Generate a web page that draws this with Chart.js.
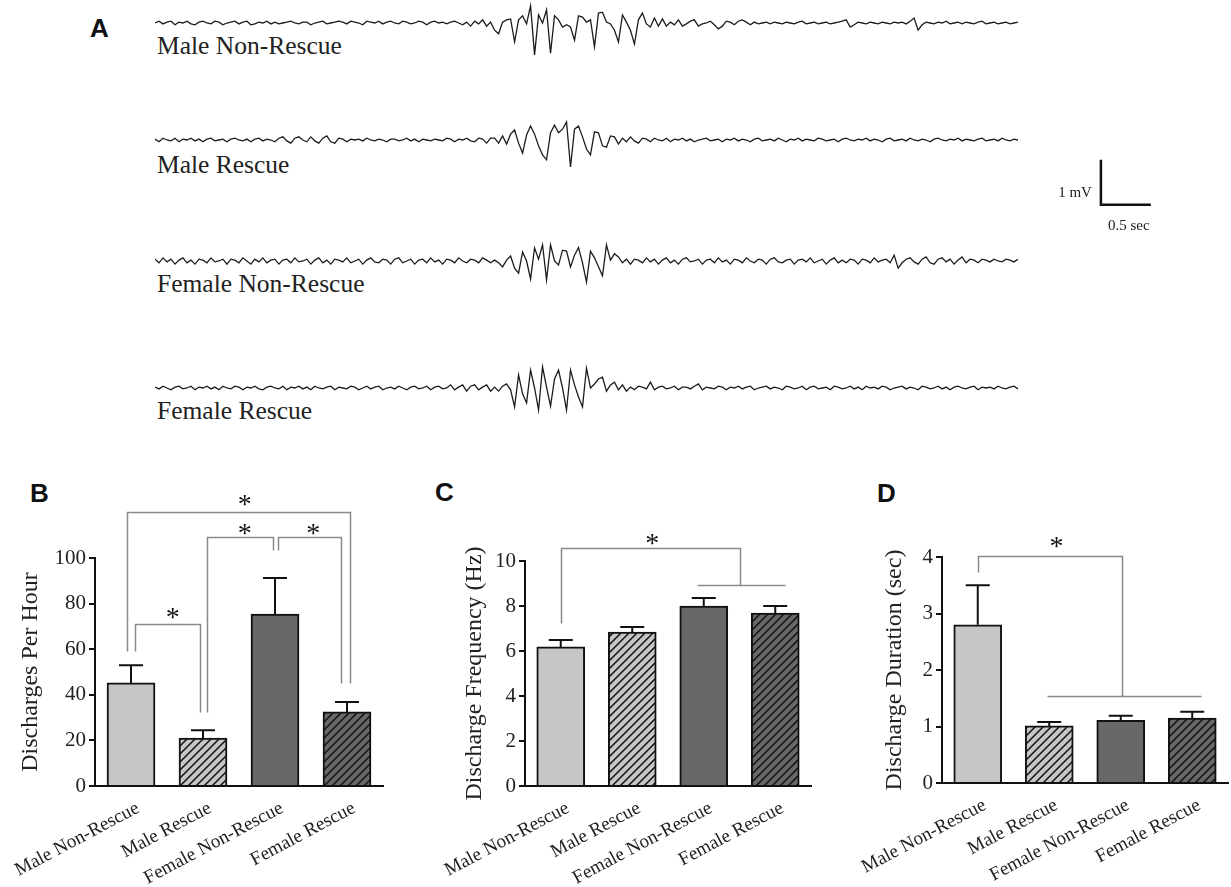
<!DOCTYPE html>
<html>
<head>
<meta charset="utf-8">
<script src="https://cdn.jsdelivr.net/npm/chart.js@4.4.1/dist/chart.umd.min.js"></script>
<style>
  body { margin: 0; background: #fff; width: 1231px; height: 887px; overflow: hidden; position: relative; }
  canvas { position: absolute; }
  .lbl { position: absolute; font-family: "Liberation Serif", serif; font-size: 25.5px; line-height: 1; color: #222; white-space: nowrap; }
  .panel { position: absolute; font-family: "Liberation Sans", Arial, sans-serif; font-weight: bold; font-size: 26px; line-height: 1; color: #111; }
</style>
</head>
<body>
<div class="panel" style="left:90px;top:15px">A</div>
<div class="panel" style="left:30px;top:480px">B</div>
<div class="panel" style="left:435px;top:479px">C</div>
<div class="panel" style="left:877px;top:480px">D</div>

<div class="lbl" style="left:157px;top:33px">Male Non-Rescue</div>
<div class="lbl" style="left:157px;top:152px">Male Rescue</div>
<div class="lbl" style="left:157px;top:271px">Female Non-Rescue</div>
<div class="lbl" style="left:157px;top:398px">Female Rescue</div>

<canvas id="tr1" width="1231" height="144" style="left:0;top:-31px"></canvas>
<canvas id="tr2" width="1231" height="144" style="left:0;top:86px"></canvas>
<canvas id="tr3" width="1231" height="144" style="left:0;top:207px"></canvas>
<canvas id="tr4" width="1231" height="144" style="left:0;top:334px"></canvas>

<canvas id="chartB" width="400" height="417" style="left:0;top:470px"></canvas>
<canvas id="chartC" width="420" height="417" style="left:400px;top:470px"></canvas>
<canvas id="chartD" width="411" height="417" style="left:820px;top:470px"></canvas>

<script>
// EEG traces (mV), one sample every 0.04 s
const SAMPLE_DT = 0.04

const maleNonRescueTrace = [
  0, 0.04, -0.02, 0.02, 0.04, -0.04, 0.02, 0, 0.04, -0.02,
  -0.04, 0.02, 0.04, 0, -0.02, 0.04, 0.02, -0.04, 0, 0.02,
  0.04, -0.02, 0.02, 0.04, -0.04, -0.02, 0.02, 0, 0.04, -0.02,
  0.02, -0.02, 0, 0.02, 0.04, 0, -0.02, 0.02, 0.02, -0.04,
  0, 0.02, 0.04, -0.02, 0, 0.02, 0.04, 0.02, -0.02, 0.04,
  0.02, 0, -0.04, 0.04, 0.02, 0, 0.04, -0.02, 0.02, 0.04,
  0, -0.02, 0.04, 0.02, -0.02, 0, 0.04, 0.02, -0.04, 0.02,
  0.04, 0, 0.02, -0.02, 0.02, 0.04, 0, -0.04, 0.02,
  -0.07, 0.04, -0.02, 0.07, -0.07, 0.02, -0.16, -0.24, 0.02, 0.07,
  0.09, -0.42, 0.07, 0.16, -0.02, 0.38, -0.71, 0.18, 0, 0.29,
  -0.67, 0.16, 0.07, -0.09, -0.04, -0.09, -0.38, 0.16, 0.13, 0.02,
  0.07, -0.53, 0.22, 0.24, 0.02, -0.02, -0.16, -0.42, 0.18, 0.02,
  -0.16, -0.47, 0.07, 0.22, -0.02, -0.09, 0.11, -0.07, 0.09, -0.07,
  0.02, -0.04, 0.07, -0.07, -0.02, 0.04, 0.07, -0.07, -0.02, 0,
  0.04, -0.04, -0.13, -0.07, 0.04, 0.02, -0.04, 0.04, 0.07, 0.02,
  -0.04,
  0.02, -0.02, 0, 0.02, -0.02, 0.02, 0, -0.02, 0.02, 0,
  -0.02, 0.02, 0.04, -0.02, 0, 0.02, -0.02, 0, 0.02, -0.02,
  0, 0.02, 0.04, 0.07, -0.09, -0.04, 0.02, 0, -0.02, 0.02,
  0, -0.02, 0.02, 0, -0.02, 0.02, 0, 0.02, -0.02, 0.04,
  0.11, -0.16, -0.04, 0.02, 0, -0.02, 0.02, 0, 0.04, -0.02,
  0, 0.02, -0.02, 0.02, 0, -0.02, 0.02, 0.04, -0.02, 0,
  0.02, -0.02, 0, 0.02, -0.02, 0, 0.02,
]

const maleRescueTrace = [
  0.02, -0.04, 0.04, 0, -0.02, 0.04, -0.04, 0.02, 0, 0.04,
  -0.02, 0.02, -0.04, 0.02, 0.04, -0.02, 0, 0.02, -0.04, 0.02,
  0.04, 0, -0.02, 0.02, -0.04, 0.02, 0.04, -0.02, 0.02, 0,
  -0.04, 0.04, 0.07, -0.02, -0.07, 0.04, 0.07, 0, -0.04, 0.07,
  -0.02, -0.07, 0.04, 0.09, -0.04, -0.07, 0.04, 0.02, -0.04, 0.02,
  0, 0.02, -0.02, 0.04, 0, -0.02, 0.02, 0, -0.04, 0.02,
  0.02, -0.02, 0, 0.04, -0.02, 0.02, -0.04, 0.02, 0, -0.02,
  0.02, 0, -0.02, 0.04, 0.02, -0.04, 0.02, 0, 0.04, -0.02,
  -0.04, 0.04, 0.02, -0.07, 0.04,
  0.04, -0.07, 0.09, -0.09, 0.13, 0.22, -0.07, -0.29, 0.11, 0.31,
  0.13, -0.13, -0.33, -0.44, 0.16, 0.33, 0.16, 0.24, 0.40, -0.6,
  0.24, 0.31, 0.07, -0.2, -0.33, 0.18, 0.16, -0.13, -0.16, 0.09,
  0.07, -0.09, 0.04,
  -0.04, 0.07, -0.02, -0.07, 0.04, 0.02, -0.04, 0.04, 0, -0.02,
  0.04, -0.04, 0.02, 0, 0.04, -0.02, 0.02, -0.04, 0, 0.02,
  0.04, -0.02, 0, 0.02, -0.04, 0.02, 0, 0.04, -0.02, 0.02,
  0, -0.04, 0.02, 0.04, -0.02, 0, 0.02, -0.02, 0.04, 0,
  -0.04, 0.02, 0, 0.04, -0.02, 0.02, 0, -0.02, 0.04, 0.02,
  -0.02, 0, 0.02, -0.04, 0.02, 0.04, 0, -0.02, 0.02, 0,
  0.04, -0.02, 0.02, 0, -0.04, 0.02, 0.04, -0.02, 0, 0.02,
  -0.02, 0.04, 0, -0.02, 0.02, 0, -0.04, 0.02, 0.04, 0,
  -0.02, 0.02, 0, 0.04, -0.02, 0.02, 0, -0.02, 0.02, 0.04,
  -0.02, 0, 0.02, -0.02, 0.04, 0, -0.02, 0.02, 0,
]

const femaleNonRescueTrace = [
  0.04, -0.04, 0.07, -0.02, 0.04, -0.07, 0.02, 0.07, -0.04, 0.02,
  -0.07, 0.04, 0.02, -0.04, 0.07, -0.02, 0, 0.04, -0.07, 0.04,
  0.02, -0.04, 0.07, 0, -0.07, 0.04, -0.02, 0.07, -0.04, 0.02,
  0.04, -0.07, 0.02, 0.04, -0.04, 0.07, -0.02, 0, 0.04, -0.07,
  0.02, 0.07, -0.04, 0.02, -0.07, 0.04, 0.02, -0.02, 0.07, -0.04,
  0, 0.04, -0.07, 0.02, 0.07, -0.02, -0.04, 0.04, 0.02, -0.07,
  0.04, 0.07, -0.04, 0, 0.04, -0.07, 0.02, 0.04, -0.04, 0.07,
  -0.02, 0.02, -0.07, 0.04, 0.02, -0.04, 0.07, 0, -0.04, 0.04,
  0.02, -0.04, 0.07,
  0.02, -0.04, 0.02, -0.04, -0.13, 0.02, 0.11, -0.16, -0.27, 0.2,
  0, -0.4, 0.29, 0.04, 0.36, -0.42, 0.36, 0, -0.09, 0.24,
  0.22, -0.13, 0.13, 0.3, -0.04, -0.47, 0.22, 0.07, -0.13, -0.33,
  0.36, 0.02, 0.16, 0.09, -0.04, 0.04,
  -0.07, 0.04, 0.02, -0.04, 0.07, -0.02, 0.04, -0.07, 0.02, 0.07,
  -0.04, 0.02, -0.07, 0.04, 0.07, -0.02, 0, 0.04, -0.07, 0.02,
  0.04, -0.04, 0.07, -0.02, 0.02, -0.07, 0.04, 0.02, -0.04, 0.07,
  0, -0.04, 0.04, 0.02, -0.07, 0.04, 0.07, -0.02, -0.04, 0.02,
  0.04, -0.07, 0.02, 0.04, -0.02, 0.07, -0.04, 0, 0.04, -0.07,
  0.02, 0.07, -0.04, 0.02, -0.04, 0.04, 0.02, -0.07, 0.04, 0.02,
  -0.04, 0.07, -0.02, 0.02, 0.04, -0.04, 0.13, -0.16, -0.04, 0.04,
  0.07, -0.02, -0.07, 0.04, 0.09, -0.04, -0.07, 0.04, 0.07, -0.02,
  0.04, -0.07, 0.02, 0.09, -0.04, 0.04, 0.02, -0.04, 0.04, 0.02,
  -0.02, 0.04, 0, -0.02, 0.04, 0.02, -0.02, 0.04,
]

const femaleRescueTrace = [
  0.02, -0.02, 0.04, 0, -0.04, 0.02, 0.04, -0.02, 0, 0.04,
  -0.04, 0.02, 0, 0.04, -0.02, 0.02, -0.04, 0.04, 0, -0.02,
  0.04, 0.02, -0.04, 0.02, 0, 0.04, -0.02, -0.04, 0.02, 0.04,
  0, -0.02, 0.04, -0.04, 0.02, 0, 0.04, -0.02, 0.02, -0.04,
  0.04, 0, -0.02, 0.02, 0.04, -0.04, 0.02, 0, -0.02, 0.04,
  0.02, -0.04, 0, 0.04, -0.02, 0.02, 0.04, -0.04, 0, 0.02,
  -0.02, 0.04, 0, -0.04, 0.02, 0.04, -0.02, 0, 0.04, -0.04,
  0.02, 0.04, -0.02, 0, 0.07, -0.04, 0.02, 0.07, -0.07, 0.04,
  0.07, -0.04, 0.02, 0.07, -0.07,
  0.02, -0.07, 0.04, 0.09, -0.04, -0.42, 0.29, -0.13, -0.33, 0.4,
  0, -0.49, 0.47, 0.02, -0.4, 0.2, 0.4, 0, -0.49, 0.4,
  0.07, -0.2, -0.42, 0.44, 0, 0.09, 0.2, 0.24, -0.07, 0.07,
  0.13, -0.04, 0.07, -0.07,
  0.02, -0.04, 0.04, 0.02, -0.02, 0.13, -0.04, 0.02, 0.04, -0.02,
  0, 0.04, -0.04, 0.02, 0.02, -0.02, 0.04, 0.09, -0.04, 0.02,
  0, -0.02, 0.04, 0.02, -0.04, 0.02, 0, 0.04, -0.02, 0.02,
  0.04, -0.04, 0, 0.02, 0.04, -0.02, 0.02, 0, -0.04, 0.04,
  0.02, -0.02, 0, 0.04, -0.04, 0.02, 0.04, -0.02, 0, 0.02,
  -0.04, 0.04, 0.02, -0.02, 0, 0.04, -0.02, 0.02, -0.04, 0.04,
  0, 0.02, -0.02, 0.04, 0.02, -0.04, 0, 0.02, 0.04, -0.02,
  0.02, 0, -0.04, 0.04, 0.02, -0.02, 0, 0.04, -0.02, 0.02,
  -0.04, 0.02, 0.04, 0, -0.02, 0.02, 0.04, -0.04, 0.02, 0,
  0.02, -0.02, 0.04, 0, -0.02, 0.02, 0.04, -0.02,
]

// bar data (mean and SEM)
const groups = ["Male Non-Rescue", "Male Rescue", "Female Non-Rescue", "Female Rescue"]
const dischargesPerHour = [45.2, 21.0, 75.4, 32.5]
const dischargesPerHourSem = [7.8, 3.5, 15.8, 4.3]
const dischargeFreq = [6.18, 6.84, 8.0, 7.69]
const dischargeFreqSem = [0.31, 0.23, 0.36, 0.31]
const dischargeDur = [2.8, 1.01, 1.11, 1.15]
const dischargeDurSem = [0.7, 0.07, 0.08, 0.11]

const SERIF = '"Liberation Serif", "Times New Roman", serif'
const INK = "#1c1c1c"

// ---- panel A ----
const scaleBar = {
  id: "scaleBar",
  afterDraw(chart) {
    const { ctx, scales } = chart
    const t0 = 9.47
    const v0 = -1.44
    const xa = scales.x.getPixelForValue(t0)
    const xb = scales.x.getPixelForValue(t0 + 0.5)
    const ya = scales.y.getPixelForValue(v0)
    const yb = scales.y.getPixelForValue(v0 + 1)
    ctx.save()
    ctx.strokeStyle = "#111"
    ctx.lineWidth = 2.5
    ctx.beginPath()
    ctx.moveTo(xa, yb)
    ctx.lineTo(xa, ya)
    ctx.lineTo(xb, ya)
    ctx.stroke()
    ctx.fillStyle = "#222"
    ctx.font = "15px " + SERIF
    ctx.textAlign = "right"
    ctx.textBaseline = "alphabetic"
    ctx.fillText("1 mV", xa - 9, ya - 8)
    ctx.textAlign = "left"
    ctx.fillText("0.5 sec", xa + 7, ya + 25)
    ctx.restore()
  },
}

function drawTrace(id, values, extra) {
  new Chart(document.getElementById(id), {
    type: "line",
    data: {
      datasets: [
        {
          data: values.map((v, i) => ({ x: i * SAMPLE_DT, y: v })),
          borderColor: INK,
          borderWidth: 1.3,
          pointRadius: 0,
          tension: 0,
        },
      ],
    },
    options: {
      responsive: false,
      animation: false,
      layout: { padding: { left: 155, right: 213, top: 0, bottom: 0 } },
      plugins: { legend: { display: false }, tooltip: { enabled: false } },
      scales: {
        x: { type: "linear", min: 0, max: 8.64, display: false },
        y: { min: -2.0, max: 1.2, display: false },
      },
    },
    plugins: extra ? [extra] : [],
  })
}

drawTrace("tr1", maleNonRescueTrace)
drawTrace("tr2", maleRescueTrace, scaleBar)
drawTrace("tr3", femaleNonRescueTrace)
drawTrace("tr4", femaleRescueTrace)

// ---- panels B-D ----
function hatch(base) {
  const c = document.createElement("canvas")
  c.width = 8
  c.height = 8
  const g = c.getContext("2d")
  g.fillStyle = base
  g.fillRect(0, 0, 8, 8)
  g.strokeStyle = "#111"
  g.lineWidth = 1.5
  g.beginPath()
  g.moveTo(0, 8)
  g.lineTo(8, 0)
  g.moveTo(-2, 2)
  g.lineTo(2, -2)
  g.moveTo(6, 10)
  g.lineTo(10, 6)
  g.stroke()
  return g.createPattern(c, "repeat")
}

const LIGHT = "#c6c6c6"
const DARK = "#686868"
const barColors = [LIGHT, hatch(LIGHT), DARK, hatch(DARK)]

// error bars, significance brackets ([category position, value] points) and stars
function marks(sem, lines, stars) {
  return {
    id: "marks",
    afterDatasetsDraw(chart) {
      const { ctx, scales } = chart
      const { x, y } = scales
      const vals = chart.data.datasets[0].data
      ctx.save()
      ctx.strokeStyle = "#111"
      ctx.lineWidth = 2
      chart.getDatasetMeta(0).data.forEach((bar, i) => {
        const top = y.getPixelForValue(vals[i] + sem[i])
        ctx.beginPath()
        ctx.moveTo(bar.x, bar.y)
        ctx.lineTo(bar.x, top)
        ctx.moveTo(bar.x - 12, top)
        ctx.lineTo(bar.x + 12, top)
        ctx.stroke()
      })
      ctx.strokeStyle = "#8a8a8a"
      ctx.lineWidth = 1.5
      lines.forEach((pts) => {
        ctx.beginPath()
        pts.forEach(([c, v], k) => {
          const px = Math.round(x.getPixelForValue(c)) + 0.5
          const py = Math.round(y.getPixelForValue(v)) + 0.5
          if (k === 0) ctx.moveTo(px, py)
          else ctx.lineTo(px, py)
        })
        ctx.stroke()
      })
      ctx.fillStyle = "#111"
      ctx.font = "28px " + SERIF
      ctx.textAlign = "center"
      ctx.textBaseline = "middle"
      stars.forEach(([c, v]) => {
        ctx.fillText("*", x.getPixelForValue(c), y.getPixelForValue(v) + 6)
      })
      ctx.restore()
    },
  }
}

function barChart(id, values, opt) {
  new Chart(document.getElementById(id), {
    type: "bar",
    data: {
      labels: groups,
      datasets: [
        {
          data: values,
          backgroundColor: barColors,
          borderColor: "#111",
          borderWidth: 2,
          barThickness: 48,
        },
      ],
    },
    options: {
      responsive: false,
      animation: false,
      layout: { padding: { left: 0, top: opt.top, right: opt.right, bottom: 0 } },
      plugins: { legend: { display: false }, tooltip: { enabled: false } },
      scales: {
        x: {
          grid: { display: false, drawTicks: false },
          border: { color: "#111", width: 2 },
          ticks: {
            autoSkip: false,
            minRotation: 28,
            maxRotation: 28,
            padding: 11,
            labelOffset: 7,
            color: "#222",
            font: { family: SERIF, size: 19 },
          },
          afterFit: (s) => {
            s.height = opt.xh
            s.paddingLeft = 0
            s.paddingRight = 0
          },
        },
        y: {
          min: 0,
          max: opt.max,
          ticks: { stepSize: opt.step, padding: 3, color: "#222", font: { family: SERIF, size: 21 } },
          grid: { display: true, drawOnChartArea: false, drawTicks: true, tickLength: 6, color: "#111", lineWidth: 2 },
          border: { color: "#111", width: 2 },
          title: {
            display: true,
            text: opt.title,
            color: "#222",
            font: { family: SERIF, size: 24 },
            padding: { top: opt.tp, bottom: 0 },
          },
          afterFit: (s) => {
            s.width = opt.yw
          },
        },
      },
    },
    plugins: [marks(opt.sem, opt.lines, opt.stars)],
  })
}

barChart("chartB", dischargesPerHour, {
  title: "Discharges Per Hour",
  max: 100, step: 20, sem: dischargesPerHourSem,
  top: 88, right: 17, xh: 101, yw: 95, tp: 16,
  lines: [
    [[-0.055, 59], [-0.055, 120], [3.04, 120], [3.04, 45]],
    [[0.055, 59], [0.055, 71], [0.965, 71], [0.965, 32.5]],
    [[1.06, 32.5], [1.06, 109], [1.97, 109], [1.97, 103.5]],
    [[2.04, 103.5], [2.04, 109], [2.92, 109], [2.92, 45]],
  ],
  stars: [[0.58, 76], [1.58, 125.5], [1.58, 113], [2.53, 113]],
})

barChart("chartC", dischargeFreq, {
  title: "Discharge Frequency (Hz)",
  max: 10, step: 2, sem: dischargeFreqSem,
  top: 91, right: 9, xh: 101, yw: 125, tp: 60,
  lines: [
    [[0, 7.24], [0, 10.58], [2.51, 10.58], [2.51, 8.93]],
    [[1.91, 8.93], [3.13, 8.93]],
  ],
  stars: [[1.28, 11.0]],
})

barChart("chartD", dischargeDur, {
  title: "Discharge Duration (sec)",
  max: 4, step: 1, sem: dischargeDurSem,
  top: 87, right: 3, xh: 104, yw: 122, tp: 60,
  lines: [
    [[0, 3.73], [0, 4.02], [2.02, 4.02], [2.02, 1.54]],
    [[0.97, 1.54], [3.12, 1.54]],
  ],
  stars: [[1.1, 4.27]],
})
</script>
</body>
</html>
